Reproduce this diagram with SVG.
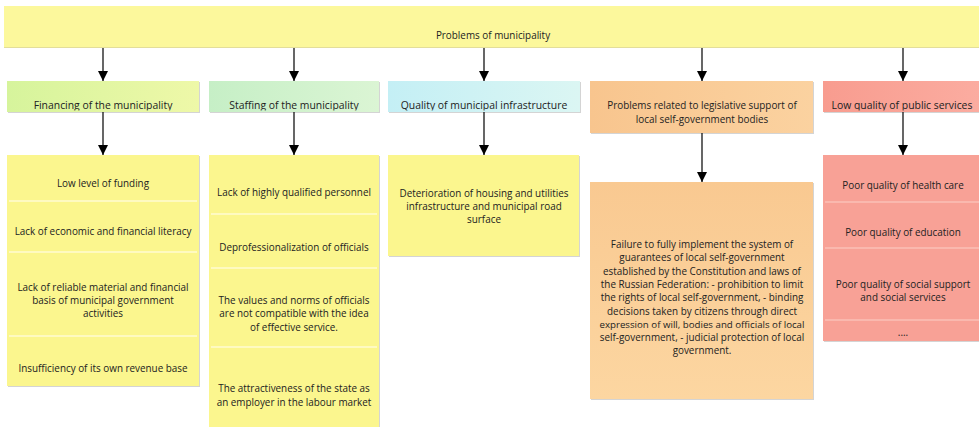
<svg xmlns="http://www.w3.org/2000/svg" width="979" height="427" viewBox="0 0 979 427">
<style>
text{font-family:"Open Sans","Noto Sans","DejaVu Sans",sans-serif;font-size:9.9px;fill:#222;text-anchor:middle}
.hd{font-size:10.4px}
.sh{fill:#d4d4d4}
.sep{stroke:#fffbd2;stroke-width:1.3}
.sepp{stroke:#fbc0b6;stroke-width:1.3}
.conn{stroke:#000;stroke-width:1.2;fill:none;marker-end:url(#ah)}
</style>
<defs>
<marker id="ah" viewBox="0 0 10 10" refX="10" refY="5" markerWidth="10" markerHeight="10" markerUnits="userSpaceOnUse" orient="auto">
<path d="M0,0 L10,5 L0,10 z" fill="#000"/>
</marker>
<linearGradient id="gFin" x1="0" x2="1" y1="0" y2="0"><stop offset="0" stop-color="#d6f49c"/><stop offset="1" stop-color="#eef8a8"/></linearGradient>
<linearGradient id="gSta" x1="0" x2="1" y1="0" y2="0"><stop offset="0" stop-color="#c6efc6"/><stop offset="1" stop-color="#dbf5d4"/></linearGradient>
<linearGradient id="gQua" x1="0" x2="1" y1="0" y2="0"><stop offset="0" stop-color="#c4eff5"/><stop offset="1" stop-color="#dbf6f3"/></linearGradient>
<linearGradient id="gPro" x1="0" x2="1" y1="0" y2="0"><stop offset="0" stop-color="#f8c58e"/><stop offset="1" stop-color="#fbd2a0"/></linearGradient>
<linearGradient id="gLow" x1="0" x2="1" y1="0" y2="0"><stop offset="0" stop-color="#f89c8f"/><stop offset="1" stop-color="#fbaca0"/></linearGradient>
<linearGradient id="gProD" x1="0" x2="0" y1="0" y2="1"><stop offset="0" stop-color="#f9c991"/><stop offset="1" stop-color="#fcd6a1"/></linearGradient>
<clipPath id="cFin"><rect x="7" y="81" width="192" height="29.5"/></clipPath>
<clipPath id="cSta"><rect x="209" y="81" width="170" height="29.5"/></clipPath>
<clipPath id="cQua"><rect x="388" y="81" width="192" height="29.5"/></clipPath>
<clipPath id="cLow"><rect x="823" y="81" width="156" height="29.5"/></clipPath>
</defs>

<g id="top">
<rect x="4" y="6" width="975" height="42" fill="#fcf89c"/>
<rect x="4" y="47" width="975" height="1" fill="#e3de9a"/>
<text x="493" y="38.5">Problems of municipality</text>
</g>

<g id="financing">
<rect class="sh" x="8" y="82" width="192" height="31"/>
<rect x="7" y="81" width="192" height="31" fill="url(#gFin)"/>
<text class="hd" x="103" y="109" clip-path="url(#cFin)">Financing of the municipality</text>
</g>
<g id="staffing">
<rect class="sh" x="210" y="82" width="170" height="31"/>
<rect x="209" y="81" width="170" height="31" fill="url(#gSta)"/>
<text class="hd" x="294" y="109" clip-path="url(#cSta)">Staffing of the municipality</text>
</g>
<g id="quality">
<rect class="sh" x="389" y="82" width="192" height="31"/>
<rect x="388" y="81" width="192" height="31" fill="url(#gQua)"/>
<text class="hd" x="484" y="109" clip-path="url(#cQua)">Quality of municipal infrastructure</text>
</g>
<g id="legislative">
<rect class="sh" x="591" y="82" width="223" height="52"/>
<rect x="590" y="81" width="223" height="52" fill="url(#gPro)"/>
<text x="702" y="109">Problems related to legislative support of</text>
<text x="702" y="123">local self-government bodies</text>
</g>
<g id="lowquality">
<rect class="sh" x="824" y="82" width="156" height="31"/>
<rect x="823" y="81" width="156" height="31" fill="url(#gLow)"/>
<text class="hd" x="902" y="109" clip-path="url(#cLow)">Low quality of public services</text>
</g>

<g id="financing-details">
<rect class="sh" x="8" y="156" width="192" height="231"/>
<rect x="7" y="155" width="192" height="231" fill="#fbf68e"/>
<line class="sep" x1="9" y1="201" x2="197" y2="201"/>
<line class="sep" x1="9" y1="252" x2="197" y2="252"/>
<line class="sep" x1="9" y1="336" x2="197" y2="336"/>
<text x="103" y="187">Low level of funding</text>
<text x="103" y="235">Lack of economic and financial literacy</text>
<text x="103" y="291">Lack of reliable material and financial</text>
<text x="103" y="304">basis of municipal government</text>
<text x="103" y="317">activities</text>
<text x="103" y="372">Insufficiency of its own revenue base</text>
</g>

<g id="staffing-details">
<rect class="sh" x="210" y="156" width="170" height="280"/>
<rect x="209" y="155" width="170" height="280" fill="#fbf68e"/>
<line class="sep" x1="211" y1="214" x2="377" y2="214"/>
<line class="sep" x1="211" y1="268" x2="377" y2="268"/>
<line class="sep" x1="211" y1="347" x2="377" y2="347"/>
<text x="294" y="196">Lack of highly qualified personnel</text>
<text x="294" y="251">Deprofessionalization of officials</text>
<text x="294" y="304">The values and norms of officials</text>
<text x="294" y="317">are not compatible with the idea</text>
<text x="294" y="331">of effective service.</text>
<text x="294" y="392">The attractiveness of the state as</text>
<text x="294" y="406">an employer in the labour market</text>
</g>

<g id="quality-details">
<rect class="sh" x="389" y="156" width="191" height="101"/>
<rect x="388" y="155" width="191" height="101" fill="#fbf68e"/>
<text x="484" y="197">Deterioration of housing and utilities</text>
<text x="484" y="210">infrastructure and municipal road</text>
<text x="484" y="223">surface</text>
</g>

<g id="legislative-details">
<rect class="sh" x="591" y="183" width="223" height="217"/>
<rect x="590" y="182" width="223" height="217" fill="url(#gProD)"/>
<text x="702" y="248">Failure to fully implement the system of</text>
<text x="702" y="261.3">guarantees of local self-government</text>
<text x="702" y="274.6">established by the Constitution and laws of</text>
<text x="702" y="287.9">the Russian Federation: - prohibition to limit</text>
<text x="702" y="301.2">the rights of local self-government, - binding</text>
<text x="702" y="314.5">decisions taken by citizens through direct</text>
<text x="702" y="327.8" style="font-size:9.7px">expression of will, bodies and officials of local</text>
<text x="702" y="341.1">self-government, - judicial protection of local</text>
<text x="702" y="354.4">government.</text>
</g>

<g id="lowquality-details">
<rect class="sh" x="824" y="156" width="156" height="186"/>
<rect x="823" y="155" width="156" height="186" fill="#f8a196"/>
<line class="sepp" x1="825" y1="202" x2="979" y2="202"/>
<line class="sepp" x1="825" y1="248" x2="979" y2="248"/>
<line class="sepp" x1="825" y1="320" x2="979" y2="320"/>
<text x="903" y="189">Poor quality of health care</text>
<text x="903" y="236">Poor quality of education</text>
<text x="903" y="288">Poor quality of social support</text>
<text x="903" y="301">and social services</text>
<text x="903" y="336">....</text>
</g>

<g id="connectors">
<line class="conn" x1="103" y1="48" x2="103" y2="81"/>
<line class="conn" x1="294" y1="48" x2="294" y2="81"/>
<line class="conn" x1="484" y1="48" x2="484" y2="81"/>
<line class="conn" x1="702" y1="48" x2="702" y2="81"/>
<line class="conn" x1="903" y1="48" x2="903" y2="81"/>
<line class="conn" x1="103" y1="112" x2="103" y2="155"/>
<line class="conn" x1="294" y1="112" x2="294" y2="155"/>
<line class="conn" x1="484" y1="112" x2="484" y2="155"/>
<line class="conn" x1="702" y1="133" x2="702" y2="182"/>
<line class="conn" x1="903" y1="112" x2="903" y2="155"/>
</g>
</svg>
